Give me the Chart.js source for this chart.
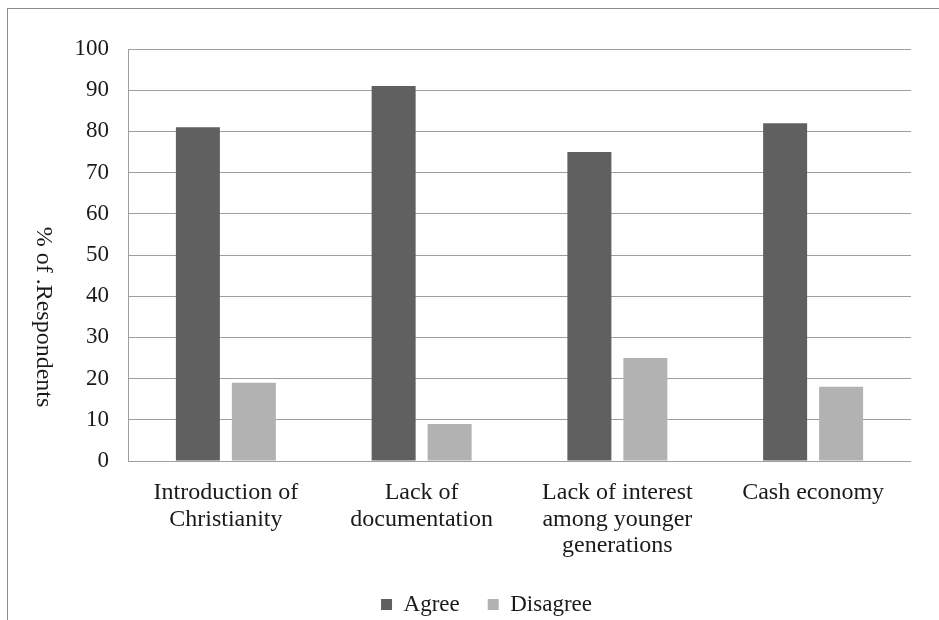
<!DOCTYPE html>
<html>
<head>
<meta charset="utf-8">
<script src="https://cdn.jsdelivr.net/npm/chart.js@4/dist/chart.umd.min.js"></script>
<style>
  html, body { margin: 0; padding: 0; background: #fff; }
  #wrap { position: relative; width: 939px; height: 620px; overflow: hidden; }
  #frame { position: absolute; left: 7px; top: 8px; right: -5px; bottom: -5px;
           border-left: 1px solid #8c8c8c; border-top: 1px solid #8c8c8c; }
  canvas { position: absolute; left: 0; top: 0; }
</style>
</head>
<body>
<div id="wrap">
  <div id="frame"></div>
  <canvas id="c" width="939" height="620"></canvas>
</div>
<script>
const categories = [
  ["Introduction of", "Christianity"],
  ["Lack of", "documentation"],
  ["Lack of interest", "among younger", "generations"],
  ["Cash economy"]
];
const agree = [81, 91, 75, 82];
const disagree = [19, 9, 25, 18];
const yTicks = [0, 10, 20, 30, 40, 50, 60, 70, 80, 90, 100];
const yTitle = "% of .Respondents";

const serif = "'Liberation Serif', 'Times New Roman', serif";
const textColor = "#1a1a1a";
const gridColor = "#9e9e9e";

// Vertical axis title, written top-to-bottom beside the value ticks
const sideTitle = {
  id: "sideTitle",
  afterDraw(chart) {
    const { ctx, chartArea } = chart;
    ctx.save();
    ctx.translate(43, (chartArea.top + chartArea.bottom) / 2 + 62);
    ctx.rotate(Math.PI / 2);
    ctx.font = "24px " + serif;
    ctx.fillStyle = textColor;
    ctx.textAlign = "center";
    ctx.textBaseline = "middle";
    ctx.fillText(yTitle, 0, 0);
    ctx.restore();
  }
};

// Place the legend row beneath the category labels
const legendPlacement = {
  id: "legendPlacement",
  afterLayout(chart) {
    const lg = chart.legend;
    const dx = 31, dy = 6;
    lg.left += dx; lg.right += dx;
    lg.top += dy; lg.bottom += dy;
  }
};

new Chart(document.getElementById("c"), {
  type: "bar",
  data: {
    labels: categories,
    datasets: [
      { label: "Agree", data: agree, backgroundColor: "#606060",
        categoryPercentage: 0.572, barPercentage: 0.786 },
      { label: "Disagree", data: disagree, backgroundColor: "#b2b2b2",
        categoryPercentage: 0.572, barPercentage: 0.786 }
    ]
  },
  plugins: [sideTitle, legendPlacement],
  options: {
    responsive: false,
    animation: false,
    layout: { padding: { top: 49, right: 28, left: 0, bottom: 0 } },
    plugins: {
      tooltip: { enabled: false },
      legend: {
        position: "bottom",
        labels: {
          font: { family: serif, size: 23 },
          color: textColor,
          boxWidth: 11,
          boxHeight: 11,
          padding: 28
        }
      }
    },
    scales: {
      x: {
        grid: { display: false, drawTicks: false },
        border: { display: false },
        ticks: {
          font: { family: serif, size: 24, lineHeight: 1.1 },
          color: textColor,
          maxRotation: 0,
          autoSkip: false,
          padding: 19
        },
        afterFit: (s) => { s.height = 98; }
      },
      y: {
        min: 0,
        max: 100,
        afterBuildTicks: (s) => { s.ticks = yTicks.map(v => ({ value: v })); },
        grid: { color: gridColor, lineWidth: 1, drawTicks: false },
        border: { display: true, color: gridColor, width: 1 },
        ticks: {
          font: { family: serif, size: 23 },
          color: textColor,
          padding: 19
        },
        afterFit: (s) => { s.width = 128; }
      }
    }
  }
});
</script>
</body>
</html>
